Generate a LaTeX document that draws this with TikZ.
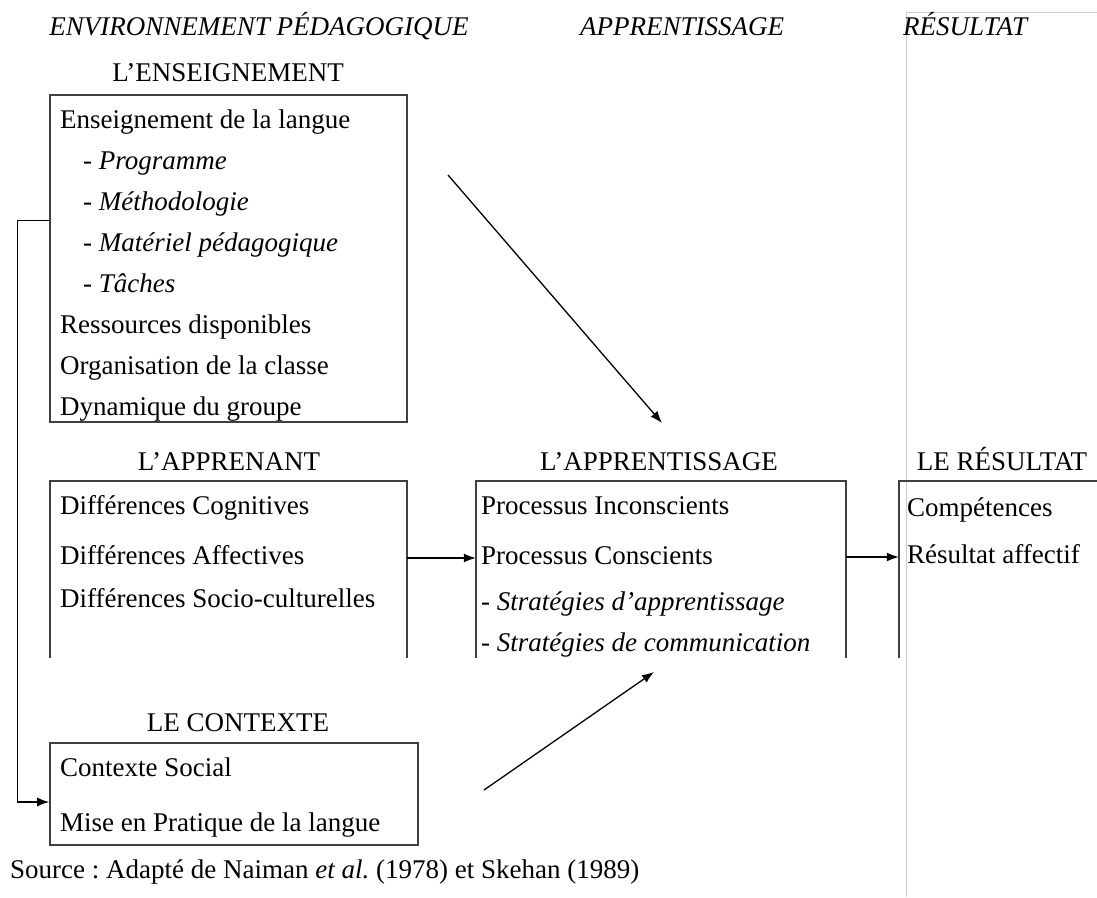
\documentclass[tikz,border=0pt]{standalone}
\usepackage{fontspec}
\setmainfont{Liberation Serif}
\usetikzlibrary{arrows.meta}
\frenchspacing
\tikzset{
boite/.style={shape=rectangle, draw=black!75, line width=1.6pt, inner sep=0pt},
vide/.style={shape=rectangle, inner sep=0pt},
cote/.style={draw=black!75, line width=1.6pt},
txt/.style={anchor=west, inner sep=0pt, text height=19pt, text depth=6pt, font=\fontsize{27}{32}\selectfont},
titre/.style={inner sep=0pt, text height=19pt, text depth=6pt, font=\fontsize{27}{32}\selectfont},
entete/.style={inner sep=0pt, text height=19pt, text depth=6pt, font=\fontsize{27}{32}\selectfont\itshape},
fleche/.style={line width=1.3pt, -{Latex[length=12pt,width=9pt]}}}

\begin{document}
\begin{tikzpicture}[x=1pt,y=-1pt]
                \useasboundingbox (0,0) rectangle (1097,897);
                \draw[black!20, line width=0.8pt] (1097,12) -- (906,12) -- (906,897);

                \node[entete] (H1) at (259,29) {ENVIRONNEMENT PÉDAGOGIQUE};
                \node[entete] (H2) at (682,29) {APPRENTISSAGE};
                \node[entete, anchor=west] (H3) at (903,29) {RÉSULTAT};

                \node[titre] (TA) at (228,75) {L’ENSEIGNEMENT};
                \node[boite, minimum width=357pt, minimum height=327pt] (A) at (228.5,258.5) {};
                \node[txt] (A1) at (60,122) {Enseignement de la langue};
                \node[txt] (A2) at (83,163) {- \textit{Programme}};
                \node[txt] (A3) at (83,204) {- \textit{Méthodologie}};
                \node[txt] (A4) at (83,245) {- \textit{Matériel pédagogique}};
                \node[txt] (A5) at (83,286) {- \textit{Tâches}};
                \node[txt] (A6) at (60,327) {Ressources disponibles};
                \node[txt] (A7) at (60,368) {Organisation de la classe};
                \node[txt] (A8) at (60,409) {Dynamique du groupe};

                \node[titre] (TB) at (229,464) {L’APPRENANT};
                \node[vide, minimum width=357pt, minimum height=177pt] (B) at (228.5,569.5) {};
                \draw[cote] (B.south west) |- (B.north east) -- (B.south east);
                \node[txt] (B1) at (60,508) {Différences Cognitives};
                \node[txt] (B2) at (60,558) {Différences Affectives};
                \node[txt] (B3) at (60,601) {Différences Socio-culturelles};

                \node[titre] (TC) at (659,464) {L’APPRENTISSAGE};
                \node[vide, minimum width=370pt, minimum height=177pt] (C) at (661,569.5) {};
                \draw[cote] (C.south west) |- (C.north east) -- (C.south east);
                \node[txt] (C1) at (481,508) {Processus Inconscients};
                \node[txt] (C2) at (481,558) {Processus Conscients};
                \node[txt] (C3) at (481,604) {- \textit{Stratégies d’apprentissage}};
                \node[txt] (C4) at (481,645) {- \textit{Stratégies de communication}};

                \node[titre] (TD) at (1002,464) {LE RÉSULTAT};
                \node[vide, minimum width=198pt, minimum height=177pt] (D) at (998,569.5) {};
                \draw[cote] (D.south west) |- (D.north east);
                \node[txt] (D1) at (907,510) {Compétences};
                \node[txt] (D2) at (907,557) {Résultat affectif};

                \node[titre] (TK) at (238,725) {LE CONTEXTE};
                \node[boite, minimum width=368pt, minimum height=102pt] (K) at (234,794) {};
                \node[txt] (K1) at (60,770) {Contexte Social};
                \node[txt] (K2) at (60,825) {Mise en Pratique de la langue};

                \node[txt] (Z) at (10,872) {Source : Adapté de Naiman \textit{et al.} (1978) et Skehan (1989)};

                \coordinate (P) at (448,175);
                \coordinate (Q) at (662,423);
                \coordinate (R) at (484,790);
                \coordinate (S) at (654,672);

                \draw[fleche] (P) -- (Q);
                \draw[fleche] (R) -- (S);
                \draw[fleche] (B.east |- C2) -- (C.west |- C2);
                \draw[fleche] (C.east |- D2) -- (D.west |- D2);
                \draw[fleche] ([yshift=38pt]A.west) -- ++(-32,0) |- ([yshift=-8pt]K.west);

            \end{tikzpicture}
\end{document}
